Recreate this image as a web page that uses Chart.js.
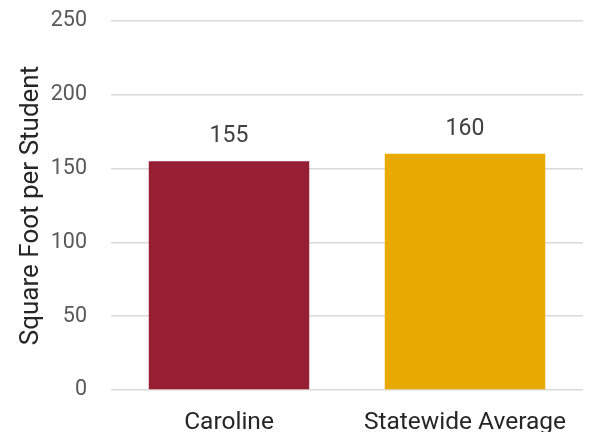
<!DOCTYPE html>
<html>
<head>
<meta charset="utf-8">
<script src="https://cdn.jsdelivr.net/npm/chart.js@4/dist/chart.umd.min.js"></script>
<style>
  html, body { margin: 0; padding: 0; background: #fff; }
  #wrap { width: 593px; height: 432px; position: relative; }
</style>
</head>
<body>
<div id="wrap"><canvas id="spaceChart"></canvas></div>
<script>
const categories = ['Caroline', 'Statewide Average'];
const sqftPerStudent = [155, 160];
const barColors = ['#971F33', '#E8A900'];
const yTicks = [0, 50, 100, 150, 200, 250];

// value labels above each bar
const valueLabels = {
    id: 'valueLabels',
    afterDatasetsDraw(chart) {
        const ctx = chart.ctx;
        const meta = chart.getDatasetMeta(0);
        ctx.save();
        ctx.font = '23px Roboto';
        ctx.fillStyle = '#404040';
        ctx.textAlign = 'center';
        ctx.textBaseline = 'middle';
        meta.data.forEach((bar, i) => {
            ctx.fillText(String(sqftPerStudent[i]), bar.x, bar.y - 25);
        });
        ctx.restore();
    }
};

new Chart(document.getElementById('spaceChart'), {
    type: 'bar',
    data: {
        labels: categories,
        datasets: [{
            data: sqftPerStudent,
            backgroundColor: barColors,
            barPercentage: 0.68,
            categoryPercentage: 1
        }]
    },
    options: {
        responsive: true,
        maintainAspectRatio: false,
        animation: false,
        layout: { padding: { top: 21, right: 10, left: 0, bottom: 0 } },
        plugins: {
            legend: { display: false },
            tooltip: { enabled: false }
        },
        scales: {
            x: {
                grid: { display: false },
                border: { display: false },
                ticks: { color: '#262626', font: { family: 'Roboto', size: 24.5 }, padding: 10 },
                afterFit: s => { s.height = 42; }
            },
            y: {
                min: 0,
                max: 250,
                afterBuildTicks: s => { s.ticks = yTicks.map(v => ({ value: v })); },
                grid: { color: '#d9d9d9', lineWidth: 1.5, drawTicks: false },
                border: { display: false },
                ticks: { color: '#595959', font: { family: 'Roboto', size: 21.5 }, padding: 24 },
                title: {
                    display: true,
                    text: 'Square Foot per Student',
                    color: '#262626',
                    font: { family: 'Roboto', size: 26 },
                    padding: { top: 16, bottom: 6 }
                },
                afterFit: s => {
                    s.width = 111;
                    s.paddingTop = 0;
                    s.paddingBottom = 0;
                }
            }
        }
    },
    plugins: [valueLabels]
});
</script>
</body>
</html>
